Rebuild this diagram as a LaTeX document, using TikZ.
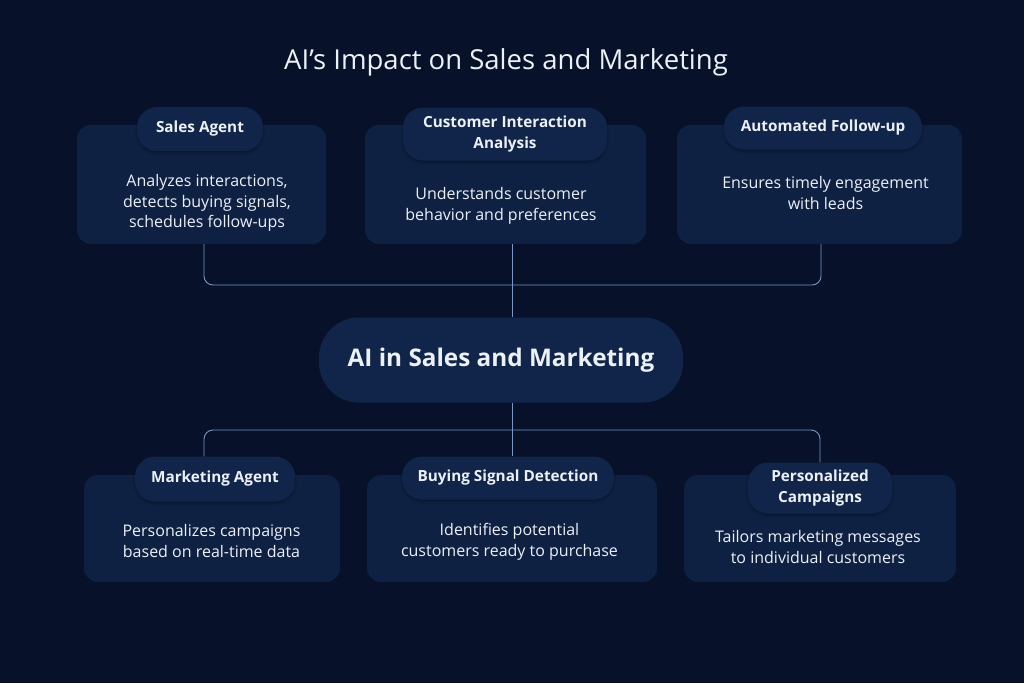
\documentclass[tikz,border=0pt]{standalone}
\usepackage{fontspec}
\setmainfont{Open Sans}
\usetikzlibrary{calc,shadows.blur}
\definecolor{bg}{RGB}{7,18,42}
\definecolor{boxc}{RGB}{14,33,66}
\definecolor{pillc}{RGB}{16,37,73}
\definecolor{linec}{RGB}{120,150,195}
\definecolor{txt}{RGB}{236,240,247}
\tikzset{
  card/.style={fill=boxc, rounded corners=14pt, inner sep=0pt},
  pill/.style={fill=pillc, rounded corners=20pt, inner sep=0pt, text=txt, font=\fontsize{15.3}{21}\selectfont\bfseries, align=center,
     blur shadow={shadow blur steps=6, shadow xshift=0pt, shadow yshift=-2pt, shadow opacity=30}},
  hubpill/.style={fill=pillc, rounded corners=40pt, inner sep=0pt, text=txt, font=\fontsize{24.3}{28}\selectfont\bfseries},
  desc/.style={text=txt, font=\fontsize{16}{20.5}\selectfont, align=center},
  conn/.style={draw=linec, line width=0.9pt, rounded corners=9pt},
}
\begin{document}
\begin{tikzpicture}[x=1pt,y=-1pt]
\useasboundingbox (0,0) rectangle (1024,683);
\fill[bg] (0,0) rectangle (1024,683);

\node[text=txt, font=\fontsize{27.5}{30}\selectfont] (title) at (506,62) {AI’s Impact on Sales and Marketing};

% top cards
\node[card, minimum width=249, minimum height=119] (tl) at (201.5,184.5) {};
\node[card, minimum width=281, minimum height=119] (tm) at (505.5,184.5) {};
\node[card, minimum width=285, minimum height=119] (tr) at (819.5,184.5) {};
\node[pill, minimum width=126, minimum height=44] (tlp) at (200,129) {Sales Agent};
\node[pill, minimum width=204, minimum height=53] (tmp) at (505,134) {Customer Interaction\\Analysis};
\node[pill, minimum width=198, minimum height=43] (trp) at (823,128) {Automated Follow-up};
\node[desc] (tld) at (207,203) {Analyzes interactions,\\detects buying signals,\\schedules follow-ups};
\node[desc] (tmd) at (501,206) {Understands customer\\behavior and preferences};
\node[desc] (trd) at (825.5,193) {Ensures timely engagement\\with leads};

% hub
\node[hubpill, minimum width=364, minimum height=85] (hub) at (501,360) {AI in Sales and Marketing};

% bottom cards
\node[card, minimum width=256, minimum height=107] (bl) at (212,528.5) {};
\node[card, minimum width=290, minimum height=107] (bm) at (512,528.5) {};
\node[card, minimum width=272, minimum height=107] (br) at (820,528.5) {};
\node[pill, minimum width=160, minimum height=45] (blp) at (215,479) {Marketing Agent};
\node[pill, minimum width=212, minimum height=43] (bmp) at (508,478) {Buying Signal Detection};
\node[pill, minimum width=144, minimum height=51] (brp) at (820,488) {Personalized\\Campaigns};
\node[desc] (bld) at (211.5,541) {Personalizes campaigns\\based on real-time data};
\node[desc] (bmd) at (509.5,542) {Identifies potential\\customers ready to purchase};
\node[desc] (brd) at (818,547) {Tailors marketing messages\\to individual customers};

% connectors
\coordinate (jt) at (512,285);
\coordinate (jb) at (512,430);
\draw[conn] ([xshift=2.5]tl.south) |- (jt) -| ([xshift=1.5]tr.south);
\draw[conn] ([xshift=6.5]tm.south) -- ([xshift=11]hub.north);
\draw[conn] ([xshift=-11]blp.north) |- (jb) -| (brp.north);
\draw[conn] ([xshift=11]hub.south) -- ([xshift=4]bmp.north);
\end{tikzpicture}
\end{document}
